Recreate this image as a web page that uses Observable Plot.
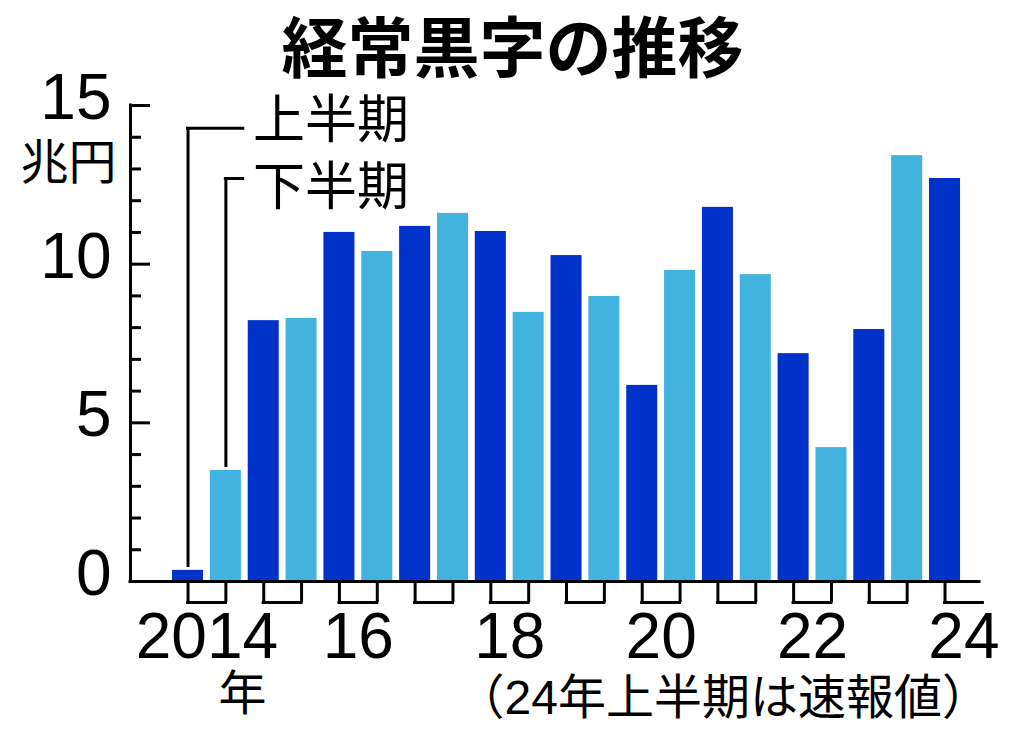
<!DOCTYPE html>
<html>
<head>
<meta charset="utf-8">
<script src="https://cdn.jsdelivr.net/npm/d3@7"></script>
<script src="https://cdn.jsdelivr.net/npm/@observablehq/plot@0.6"></script>
<style>
  html, body { margin: 0; padding: 0; background: #fff; }
  #chart svg { display: block; }
</style>
</head>
<body>
<div id="chart"></div>
<script>
// ---- data ----
const title = "経常黒字の推移";
const unitLabel = "兆円";
const years = [2014, 2015, 2016, 2017, 2018, 2019, 2020, 2021, 2022, 2023, 2024];
const firstHalf  = [0.35, 8.22, 11.0, 11.19, 11.03, 10.27, 6.18, 11.79, 7.18, 7.94, 12.70]; // 上半期
const secondHalf = [3.50, 8.29, 10.4, 11.6, 8.48, 8.98, 9.80, 9.67, 4.22, 13.42];          // 下半期
const halfNames = ["上半期", "下半期"];
const yMajorTicks = [0, 5, 10, 15];
const yMinorTicks = [1, 2, 3, 4, 6, 7, 8, 9, 11, 12, 13, 14];
const yearLabelYears = [2014, 2016, 2018, 2020, 2022, 2024];
const yearLabelTexts = ["2014", "16", "18", "20", "22", "24"];
const yearSuffix = "年";
const note = "（24年上半期は速報値）";

// ---- layout / style constants ----
const W = 1024, H = 740;
const mL = 130, mR = 45, mT = 105, mB = 159;
const frameW = W - mL - mR;
const pad = 0.18;
const bandW = 31;        // approx. bar width in px
const stepPx = 37.85;    // approx. band step in px
const dark = "#0031c9", light = "#41b3de";
const digitFont = "Liberation Sans, Arial, sans-serif";
const jpFont = "Noto Sans CJK JP, sans-serif";
const legendLevels = [14.28, 12.70];
const legendDy = [-7, 10];

// ---- derived tables ----
const keyOf = (y, h) => `${y}${h === 0 ? "上" : "下"}`;
const xDomain = years.flatMap(y => [keyOf(y, 0), keyOf(y, 1)]);
const bars = [];
years.forEach((y, i) => {
  bars.push({key: keyOf(y, 0), half: halfNames[0], value: firstHalf[i]});
  if (i < secondHalf.length) bars.push({key: keyOf(y, 1), half: halfNames[1], value: secondHalf[i]});
});
const brackets = years.map(y => ({h1: keyOf(y, 0), h2: keyOf(y, 1)}));
const yearLabels = yearLabelYears.map((y, i) => ({key: keyOf(y, 0), text: yearLabelTexts[i]}));
const legend = halfNames.map((name, i) => ({
  name,
  key: keyOf(years[0], i),
  value: i === 0 ? firstHalf[0] : secondHalf[0],
  level: legendLevels[i]
}));

const sw = 3;
const chart = Plot.plot({
  width: W, height: H,
  marginLeft: mL, marginRight: mR, marginTop: mT, marginBottom: mB,
  style: {fontFamily: jpFont, background: "#fff", color: "#000"},
  x: {type: "band", domain: xDomain, padding: pad, round: false, insetLeft: 35.2, insetRight: -25.7, axis: null},
  y: {domain: [0, 15], axis: null},
  color: {domain: halfNames, range: [dark, light]},
  marks: [
    Plot.barY(bars, {x: "key", y: "value", fill: "half"}),
    // axes
    Plot.ruleY([0], {y: d => d, stroke: "#000", strokeWidth: sw, strokeLinecap: "square"}),
    Plot.ruleX([xDomain[0]], {x: d => d, dx: -(bandW / 2 + stepPx * pad + 35.2), stroke: "#000", strokeWidth: sw, strokeLinecap: "square"}),
    Plot.tickY(yMajorTicks, {y: d => d, insetRight: frameW - 20, stroke: "#000", strokeWidth: sw}),
    Plot.tickY(yMinorTicks, {y: d => d, insetRight: frameW - 11, stroke: "#000", strokeWidth: sw}),
    Plot.text(yMajorTicks, {y: d => d, text: d => String(d), frameAnchor: "left", textAnchor: "end", lineAnchor: "middle", dx: -19, dy: -7, fontSize: 64, fontFamily: digitFont, fill: "#000"}),
    Plot.text([unitLabel], {text: d => d, frameAnchor: "top-left", textAnchor: "middle", lineAnchor: "middle", dx: -62, dy: 58, fontSize: 48, fill: "#000"}),
    // year brackets below the axis
    Plot.ruleX(bars, {x: "key", y1: () => 0, y2: () => 0, insetBottom: -21, stroke: "#000", strokeWidth: sw}),
    Plot.ruleY(brackets, {y: () => 0, x1: "h1", x2: "h2", dy: 21, insetLeft: bandW / 2, insetRight: bandW / 2, stroke: "#000", strokeWidth: sw, strokeLinecap: "square"}),
    Plot.text(yearLabels, {x: "key", y: () => 0, text: "text", textAnchor: "middle", lineAnchor: "middle", dx: stepPx / 2, dy: 56, fontSize: 64, fontFamily: digitFont, fill: "#000"}),
    Plot.text([yearSuffix], {x: () => xDomain[0], y: () => 0, text: d => d, textAnchor: "middle", lineAnchor: "middle", dx: 54.5, dy: 113, fontSize: 48, fill: "#000"}),
    Plot.text([note], {text: d => d, frameAnchor: "bottom-left", textAnchor: "start", lineAnchor: "middle", dx: 326, dy: 117, fontSize: 48, fontFamily: "Liberation Sans, Noto Sans CJK JP, sans-serif", fill: "#000"}),
    // legend leaders
    Plot.ruleX(legend, {x: "key", y1: "level", y2: "value", insetBottom: 3, stroke: "#000", strokeWidth: sw}),
    Plot.ruleY(legend, {y: "level", x1: "key", x2: () => xDomain[2], insetLeft: bandW / 2, insetRight: bandW + 5, stroke: "#000", strokeWidth: sw, strokeLinecap: "square"}),
    ...legend.map((d, i) => Plot.text([d], {x: () => xDomain[1], y: "level", text: "name", textAnchor: "start", lineAnchor: "middle", dx: 27, dy: legendDy[i], fontSize: 52, fill: "#000"})),
    // title
    Plot.text([title], {text: d => d, frameAnchor: "top", textAnchor: "middle", lineAnchor: "middle", dx: -42.5, dy: -55, fontSize: 66, fontWeight: "bold", fill: "#000"})
  ]
});
document.getElementById("chart").appendChild(chart);
</script>
</body>
</html>
